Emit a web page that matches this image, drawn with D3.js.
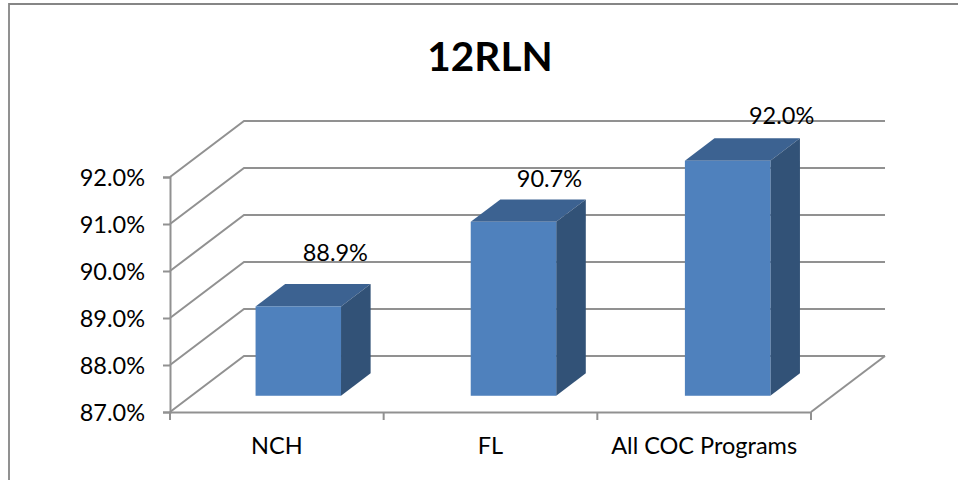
<!DOCTYPE html>
<html>
<head>
<meta charset="utf-8">
<script src="https://cdnjs.cloudflare.com/ajax/libs/d3/7.8.5/d3.min.js"></script>
<style>
  html, body { margin: 0; padding: 0; background: #fff; }
  svg { display: block; }
  text { font-family: Lato, "Open Sans", sans-serif; fill: #000; }
</style>
</head>
<body>
<div id="chart"></div>
<script>
const title = '12RLN';
const categories = ['NCH', 'FL', 'All COC Programs'];
const values = [88.9, 90.7, 92.0];
const yTicks = [87, 88, 89, 90, 91, 92];

const width = 958;
const height = 480;
const plot = { left: 170, right: 811, bottom: 412, top: 177 };
const depth = { x: 74, y: 56 };   // floor depth of the 3d box
const barFront = 0.29;            // bar front and back as part of the floor depth
const barBack = 0.69;
const gridColor = '#919191';
const fontSize = 23.5;

// hand placed offsets, the source chart does not space these evenly
const barNudge = [0, 1.5, 2];
const labelNudge = [[0, 1], [-1, 11], [17, 9]];

const svg = d3.select('#chart').append('svg')
  .attr('width', width)
  .attr('height', height);

svg.append('path')
  .attr('d', 'M9,480V4H958')
  .attr('fill', 'none')
  .attr('stroke', '#868686')
  .attr('stroke-width', 1.8);

const x = d3.scaleBand()
  .domain(categories)
  .range([plot.left, plot.right])
  .paddingInner(0)
  .paddingOuter(0);

const y = d3.scaleLinear()
  .domain([87, 92])
  .range([plot.bottom, plot.top]);

const grid = svg.append('g')
  .attr('fill', 'none')
  .attr('stroke', gridColor)
  .attr('stroke-width', 2);

// walls: side diagonal and back line for each tick
grid.selectAll('path.wall')
  .data(yTicks)
  .enter()
  .append('path')
  .attr('class', 'wall')
  .attr('d', (d) => `M${plot.left},${y(d)}L${plot.left + depth.x},${y(d) - depth.y}H${plot.right + depth.x}`);

// floor right edge
grid.append('path')
  .attr('d', `M${plot.right},${plot.bottom}L${plot.right + depth.x},${plot.bottom - depth.y}`);

const yAxis = d3.axisLeft(y)
  .tickValues(yTicks)
  .tickFormat((d) => `${d3.format('.1f')(d)}%`)
  .tickSize(7)
  .tickPadding(18);

const xAxis = d3.axisBottom(x)
  .tickValues([])
  .tickSizeOuter(0);

const yG = svg.append('g')
  .attr('transform', `translate(${plot.left},0)`)
  .call(yAxis);
yG.selectAll('line').attr('stroke', gridColor).attr('stroke-width', 2);
yG.select('.domain').attr('stroke', gridColor).attr('stroke-width', 2);
yG.selectAll('text')
  .attr('font-size', fontSize)
  .attr('font-family', 'Lato')
  .attr('fill', '#000')
  .attr('dy', '0.38em');

const xG = svg.append('g')
  .attr('transform', `translate(0,${plot.bottom})`)
  .call(xAxis);
xG.select('.domain').attr('stroke', gridColor).attr('stroke-width', 2);

xG.selectAll('line.cat')
  .data(d3.range(categories.length + 1))
  .enter()
  .append('line')
  .attr('class', 'cat')
  .attr('x1', (i) => plot.left + i * x.step())
  .attr('x2', (i) => plot.left + i * x.step())
  .attr('y1', 0)
  .attr('y2', 8)
  .attr('stroke', gridColor)
  .attr('stroke-width', 2);

svg.append('g').selectAll('text')
  .data(categories)
  .enter()
  .append('text')
  .attr('x', (d) => x(d) + x.bandwidth() / 2)
  .attr('y', 454)
  .attr('text-anchor', 'middle')
  .attr('font-size', fontSize)
  .text((d) => d);

// bars, back to front faces
const barW = x.bandwidth() * 0.4;
const frontDx = depth.x * barFront;
const frontDy = depth.y * barFront;
const sideDx = depth.x * (barBack - barFront);
const sideDy = depth.y * (barBack - barFront);

const bars = svg.append('g').selectAll('g')
  .data(categories.map((c, i) => ({ c, v: values[i], i })))
  .enter()
  .append('g');

const barLeft = (d) => x(d.c) + (x.bandwidth() - barW) / 2 + frontDx + barNudge[d.i];
const barTop = (d) => y(d.v) - frontDy;
const barBottom = () => y(87) - frontDy;

bars.append('path')
  .attr('fill', '#3c6291')
  .attr('d', (d) => `M${barLeft(d)},${barTop(d)}l${sideDx},${-sideDy}h${barW}l${-sideDx},${sideDy}Z`);

bars.append('path')
  .attr('fill', '#325277')
  .attr('d', (d) => `M${barLeft(d) + barW},${barTop(d)}l${sideDx},${-sideDy}V${barBottom() - sideDy}l${-sideDx},${sideDy}Z`);

bars.append('rect')
  .attr('fill', '#4f81bd')
  .attr('x', barLeft)
  .attr('y', barTop)
  .attr('width', barW)
  .attr('height', (d) => barBottom() - barTop(d));

bars.append('text')
  .attr('x', (d) => barLeft(d) + barW / 2 + 37 + labelNudge[d.i][0])
  .attr('y', (d) => barTop(d) - 46 + labelNudge[d.i][1])
  .attr('text-anchor', 'middle')
  .attr('font-size', fontSize)
  .text((d) => `${d.v.toFixed(1)}%`);

svg.append('text')
  .attr('x', 490)
  .attr('y', 71)
  .attr('text-anchor', 'middle')
  .attr('font-size', 40.5)
  .attr('font-weight', 700)
  .text(title);
</script>
</body>
</html>
